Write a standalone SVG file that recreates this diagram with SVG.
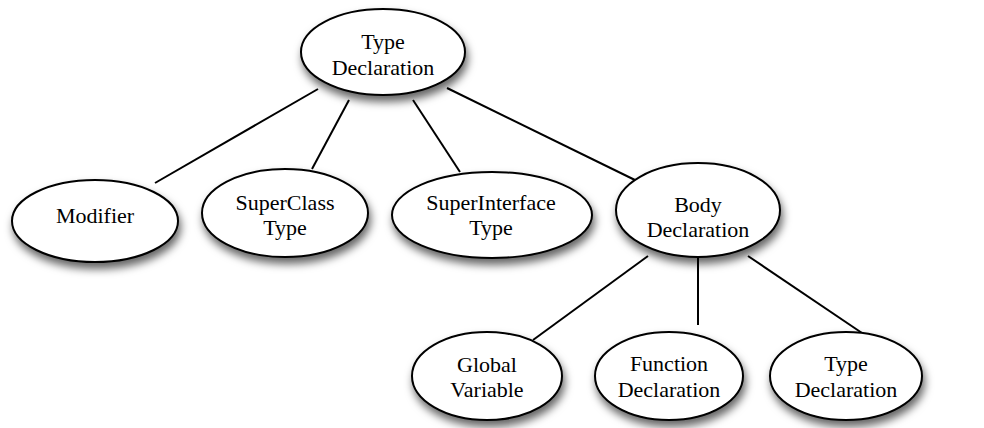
<svg xmlns="http://www.w3.org/2000/svg" width="984" height="428" viewBox="0 0 984 428">
  <defs>
    <filter id="shadow" x="-20%" y="-20%" width="150%" height="170%">
      <feDropShadow dx="2" dy="6" stdDeviation="4" flood-color="#000" flood-opacity="0.6"/>
    </filter>
    <style>
      .node ellipse { fill: #fff; stroke: #000; stroke-width: 2; filter: url(#shadow); }
      .node text { font-size: 22px; fill: #000; text-anchor: middle; }
      #edges line { stroke: #000; stroke-width: 2; }
    </style>
  </defs>
  <rect width="984" height="428" fill="#fff"/>

  <!-- tree edges -->
  <g id="edges">
    <line x1="318" y1="89" x2="155" y2="183"/>
    <line x1="349" y1="100" x2="312" y2="169"/>
    <line x1="413" y1="100" x2="460" y2="172"/>
    <line x1="447" y1="88" x2="637" y2="181"/>
    <line x1="648" y1="256" x2="533" y2="340"/>
    <line x1="698" y1="258" x2="698" y2="325"/>
    <line x1="748" y1="256" x2="862" y2="333"/>
  </g>

  <g font-family="'Liberation Serif', 'Times New Roman', serif">
  <g id="type-declaration" class="node">
    <ellipse cx="383" cy="52" rx="82" ry="43"/>
    <text x="383" y="49">Type</text>
    <text x="383" y="75">Declaration</text>
  </g>

  <g id="modifier" class="node">
    <ellipse cx="95" cy="221" rx="83" ry="41"/>
    <text x="95" y="223">Modifier</text>
  </g>

  <g id="superclass-type" class="node">
    <ellipse cx="285" cy="213" rx="83" ry="44"/>
    <text x="285" y="210">SuperClass</text>
    <text x="285" y="235">Type</text>
  </g>

  <g id="superinterface-type" class="node">
    <ellipse cx="492" cy="215" rx="100" ry="43"/>
    <text x="491" y="210">SuperInterface</text>
    <text x="491" y="235">Type</text>
  </g>

  <g id="body-declaration" class="node">
    <ellipse cx="698" cy="210" rx="82" ry="47"/>
    <text x="698" y="212">Body</text>
    <text x="698" y="237">Declaration</text>
  </g>

  <g id="global-variable" class="node">
    <ellipse cx="487" cy="376" rx="75" ry="44"/>
    <text x="487" y="372">Global</text>
    <text x="487" y="397">Variable</text>
  </g>

  <g id="function-declaration" class="node">
    <ellipse cx="669" cy="376" rx="74" ry="44"/>
    <text x="669" y="371">Function</text>
    <text x="669" y="397">Declaration</text>
  </g>

  <g id="nested-type-declaration" class="node">
    <ellipse cx="846" cy="376" rx="76" ry="44"/>
    <text x="846" y="371">Type</text>
    <text x="846" y="397">Declaration</text>
  </g>
  </g>
</svg>
